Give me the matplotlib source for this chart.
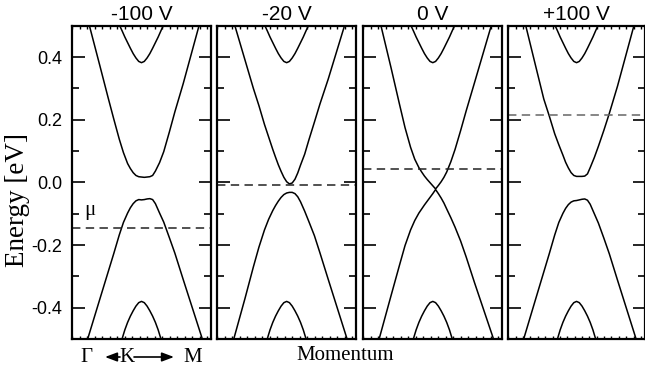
import matplotlib
matplotlib.use("Agg")
import matplotlib.pyplot as plt
from matplotlib.patches import FancyArrowPatch
from matplotlib.ticker import MultipleLocator, NullLocator, FixedLocator, FormatStrFormatter

plt.rcParams["axes.unicode_minus"] = False

# Panel titles (gate voltage) and chemical potential line per panel [eV]
gate_labels = ["-100 V", "-20 V", "0 V", "+100 V"]
mu_values = [-0.146, -0.010, 0.044, 0.216]
energy_ticks = [-0.4, -0.2, 0.0, 0.2, 0.4]

# Momentum along Gamma - K - M (0 = Gamma edge, 1 = M edge, K near 0.5)
k_outer = [0.0, 0.2, 0.26, 0.30, 0.34, 0.37, 0.40, 0.42, 0.44, 0.46, 0.48, 0.50,
           0.52, 0.54, 0.56, 0.58, 0.60, 0.63, 0.66, 0.70, 0.74, 0.80, 1.0]

# Outer conduction / valence bands [eV] for each gate voltage
cond_m100 = [0.713, 0.373, 0.270, 0.203, 0.138, 0.095, 0.060, 0.044, 0.031, 0.022, 0.018, 0.017,
             0.016, 0.017, 0.018, 0.022, 0.036, 0.063, 0.098, 0.160, 0.225, 0.315, 0.640]
val_m100 = [-0.664, -0.373, -0.286, -0.228, -0.168, -0.128, -0.098, -0.081, -0.068, -0.059, -0.055, -0.056,
            -0.055, -0.053, -0.052, -0.055, -0.068, -0.098, -0.127, -0.176, -0.226, -0.310, -0.586]

cond_m20 = [0.690, 0.390, 0.300, 0.245, 0.185, 0.145, 0.105, 0.080, 0.056, 0.035, 0.016, 0.002,
            -0.005, -0.002, 0.010, 0.030, 0.055, 0.090, 0.135, 0.192, 0.250, 0.330, 0.620]
val_m20 = [-0.690, -0.370, -0.270, -0.207, -0.152, -0.118, -0.090, -0.074, -0.060, -0.048, -0.039, -0.034,
           -0.032, -0.032, -0.036, -0.046, -0.062, -0.092, -0.125, -0.170, -0.225, -0.310, -0.590]

cond_0 = [0.735, 0.365, 0.250, 0.175, 0.112, 0.074, 0.047, 0.033, 0.020, 0.009, -0.001, -0.011,
          -0.021, -0.010, 0.002, 0.016, 0.033, 0.066, 0.105, 0.165, 0.228, 0.318, 0.620]
val_0 = [-0.684, -0.361, -0.265, -0.202, -0.152, -0.122, -0.098, -0.085, -0.072, -0.060, -0.048, -0.036,
         -0.023, -0.036, -0.050, -0.066, -0.085, -0.113, -0.143, -0.187, -0.238, -0.320, -0.583]

cond_p100 = [0.727, 0.372, 0.266, 0.212, 0.155, 0.120, 0.087, 0.064, 0.046, 0.031, 0.022, 0.019,
             0.019, 0.019, 0.020, 0.027, 0.047, 0.079, 0.115, 0.166, 0.220, 0.307, 0.628]
val_p100 = [-0.664, -0.373, -0.286, -0.228, -0.168, -0.128, -0.099, -0.083, -0.071, -0.063, -0.059, -0.058,
            -0.056, -0.054, -0.053, -0.057, -0.070, -0.100, -0.130, -0.178, -0.228, -0.312, -0.588]

# Inner (split-off) bands, the same in every panel [eV]
k_inner = [0.30, 0.34, 0.36, 0.38, 0.40, 0.42, 0.44, 0.46, 0.48, 0.50,
           0.52, 0.54, 0.56, 0.58, 0.60, 0.62, 0.64, 0.66, 0.70]
inner_cond = [0.545, 0.503, 0.484, 0.464, 0.446, 0.428, 0.411, 0.397, 0.386, 0.382,
              0.386, 0.397, 0.411, 0.428, 0.446, 0.464, 0.484, 0.503, 0.545]
inner_val = [-0.590, -0.530, -0.500, -0.471, -0.447, -0.427, -0.410, -0.395, -0.384, -0.380,
             -0.384, -0.395, -0.410, -0.427, -0.447, -0.471, -0.500, -0.530, -0.590]

cond_bands = [cond_m100, cond_m20, cond_0, cond_p100]
val_bands = [val_m100, val_m20, val_0, val_p100]

sans = "Liberation Sans"
serif = "Liberation Serif"

fig = plt.figure(figsize=(6.45, 3.72), dpi=100)
W, H = 645.0, 372.0

# Panel geometry in pixels
lefts = [72, 217.3, 363.3, 508.3]
widths = [139, 138.7, 139, 136.5]
top_px, bottom_px = 25.7, 339.0
dash_colors = ["#222222", "#222222", "#222222", "#666666"]

axes = []
for i in range(4):
    ax = fig.add_axes([lefts[i] / W, 1 - bottom_px / H, widths[i] / W, (bottom_px - top_px) / H])
    axes.append(ax)

    ax.plot(k_outer, cond_bands[i], color="black", lw=1.1)
    ax.plot(k_outer, val_bands[i], color="black", lw=1.1)
    ax.plot(k_inner, inner_cond, color="black", lw=1.1)
    ax.plot(k_inner, inner_val, color="black", lw=1.1)
    ax.axhline(mu_values[i], color=dash_colors[i], lw=1.1, ls=(0, (5.5, 3.5)))

    ax.set_xlim(0, 1)
    ax.set_ylim(-0.5, 0.5)

    # y ticks: major every 0.2, minor in between, inward on both sides
    ax.yaxis.set_major_locator(FixedLocator(energy_ticks))
    ax.yaxis.set_major_formatter(FormatStrFormatter("%.1f"))
    ax.yaxis.set_minor_locator(FixedLocator([-0.3, -0.1, 0.1, 0.3]))
    ax.tick_params(axis="y", which="major", direction="in", left=True, right=True,
                   length=9, width=1.2, labelleft=(i == 0), labelsize=13, pad=7)
    ax.tick_params(axis="y", which="minor", direction="in", left=True, right=True,
                   length=5, width=1.2)

    # x: only small minor ticks on top and bottom
    ax.xaxis.set_major_locator(NullLocator())
    ax.xaxis.set_minor_locator(MultipleLocator(0.054))
    ax.tick_params(axis="x", which="minor", direction="in", top=True, bottom=True,
                   length=2.5, width=1.0)

    for lab in ax.get_yticklabels():
        lab.set_fontfamily(sans)

    for sp in ax.spines.values():
        sp.set_linewidth(1.6)

    ax.set_title(gate_labels[i], fontsize=15, fontfamily=sans, pad=4)

# mu label in first panel
axes[0].text(0.13, -0.09, "\u03bc", fontsize=15, fontfamily=serif, ha="center", va="center")

# Axis labels
fig.text(17.5 / W, 1 - 200 / H, "Energy [eV]", rotation=90, ha="center", va="center",
         fontsize=19.5, fontfamily=serif)
fig.text(345.5 / W, 1 - 355 / H, "Momentum", ha="center", va="center",
         fontsize=15, fontfamily=serif)

# Gamma <- K -> M below the first panel
ty = 1 - 357 / H
fig.text(86.7 / W, ty, "\u0393", ha="center", va="center", fontsize=15, fontfamily=serif)
fig.text(127 / W, ty, "K", ha="center", va="center", fontsize=15, fontfamily=serif)
fig.text(193 / W, ty, "M", ha="center", va="center", fontsize=15, fontfamily=serif)
for x0, x1 in [(120, 105), (134, 174)]:
    fig.add_artist(FancyArrowPatch((x0 / W, ty), (x1 / W, ty), transform=fig.transFigure,
                                   arrowstyle="-|>,head_length=0.8,head_width=0.3",
                                   mutation_scale=9, color="black", lw=1.2,
                                   shrinkA=0, shrinkB=0))

fig.savefig("out.png", dpi=100)
